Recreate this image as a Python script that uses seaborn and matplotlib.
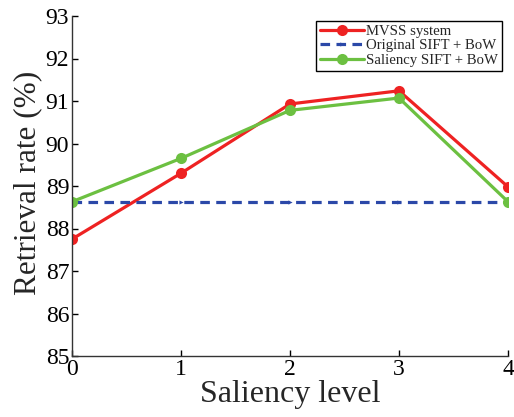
import matplotlib
matplotlib.use("Agg")
import matplotlib.pyplot as plt
import seaborn as sns
import pandas as pd

levels = [0, 1, 2, 3, 4]
mvss = [87.75, 89.30, 90.93, 91.24, 88.98]
original = [88.62, 88.62, 88.62, 88.62, 88.62]
saliency = [88.63, 89.65, 90.78, 91.07, 88.63]
yticks = [85, 86, 87, 88, 89, 90, 91, 92, 93]

sns.set_theme(style="ticks")
plt.rcParams['font.family'] = ['Liberation Serif', 'DejaVu Serif']

fig = plt.figure(figsize=(5.14, 4.17), dpi=100)
L, R, T, B = 72, 508, 16, 356
ax = fig.add_axes([L/514, 1 - B/417, (R-L)/514, (B-T)/417])

df = pd.DataFrame({"level": levels, "MVSS system": mvss,
                   "Original SIFT + BoW": original,
                   "Saliency SIFT + BoW": saliency})

sns.lineplot(data=df, x="level", y="MVSS system", ax=ax, color="#ee2222",
             lw=2.3, marker="o", markersize=8, markeredgewidth=0, label="MVSS system")
sns.lineplot(data=df, x="level", y="Original SIFT + BoW", ax=ax, color="#2b48a8",
             lw=2.3, ls=(0, (3, 2)), marker=">", markersize=3, markeredgewidth=0,
             label="Original SIFT + BoW")
sns.lineplot(data=df, x="level", y="Saliency SIFT + BoW", ax=ax, color="#6cc041",
             lw=2.3, marker="o", markersize=8, markeredgewidth=0, label="Saliency SIFT + BoW")

ax.set_xlim(0, 4)
ax.set_ylim(85, 93)
ax.set_xticks(levels)
ax.set_yticks(yticks)
ax.tick_params(direction="in", labelsize=17, length=4, width=1, colors="black", pad=2)
for lbl in ax.get_xticklabels() + ax.get_yticklabels():
    lbl.set_color("black")
ax.set_xlabel("Saliency level", fontsize=23, labelpad=0)
ax.set_ylabel("Retrieval rate (%)", fontsize=22.5)
ax.yaxis.set_label_coords(-0.068, 0.51)
sns.despine(ax=ax)
for s in ["left", "bottom"]:
    ax.spines[s].set_color("#333333")
    ax.spines[s].set_linewidth(1)

leg = ax.legend(loc="upper right", bbox_to_anchor=(502/514, 1 - 21/417),
                bbox_transform=fig.transFigure, fontsize=10.6, frameon=True,
                fancybox=False, edgecolor="black", framealpha=1, borderpad=0.25,
                labelspacing=0.08, handlelength=3.0, handletextpad=0.15,
                borderaxespad=0)
leg.get_frame().set_linewidth(1)

fig.savefig("out.png", dpi=100)
